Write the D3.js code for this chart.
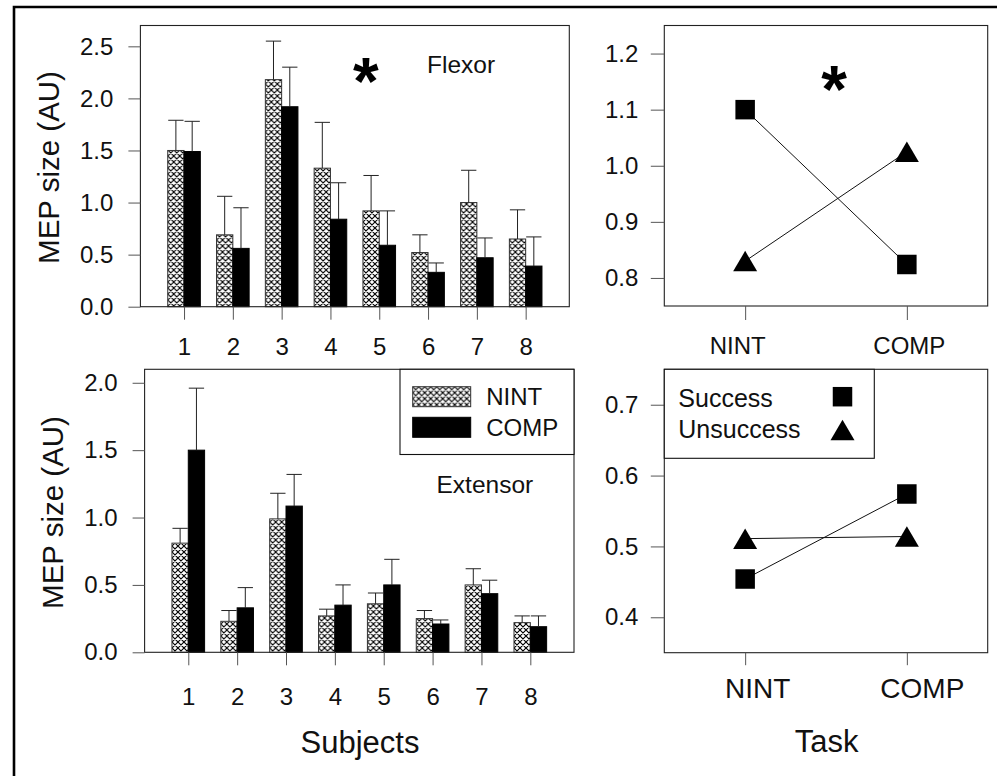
<!DOCTYPE html>
<html><head><meta charset="utf-8">
<script src="https://cdn.jsdelivr.net/npm/d3@7"></script>
<style>
html,body{margin:0;padding:0;background:#fff;overflow:hidden;}
svg{display:block;font-family:"Liberation Sans",Arial,sans-serif;}
</style></head><body>
<svg id="chart" width="997" height="776"></svg>
<script>
// ---------- DATA ----------
const subjects = ["1","2","3","4","5","6","7","8"];
const groups = ["NINT","COMP"];
const flexorNINT    = [1.50,0.69,2.18,1.33,0.92,0.52,1.00,0.65];
const flexorNINTSE  = [0.29,0.37,0.37,0.44,0.34,0.17,0.31,0.28];
const flexorCOMP    = [1.49,0.56,1.92,0.84,0.59,0.33,0.47,0.39];
const flexorCOMPSE  = [0.29,0.39,0.38,0.35,0.33,0.09,0.19,0.28];
const extensorNINT   = [0.81,0.23,0.99,0.27,0.36,0.25,0.50,0.22];
const extensorNINTSE = [0.11,0.08,0.19,0.05,0.08,0.06,0.12,0.05];
const extensorCOMP   = [1.50,0.33,1.085,0.35,0.50,0.21,0.435,0.19];
const extensorCOMPSE = [0.46,0.15,0.235,0.15,0.19,0.03,0.10,0.08];
const flexorTicks   = [0.0,0.5,1.0,1.5,2.0,2.5];
const extensorTicks = [0.0,0.5,1.0,1.5,2.0];

const tasks = ["NINT","COMP"];
const outcomes = ["Success","Unsuccess"];
const flexorSuccess     = [1.10, 0.824];
const flexorUnsuccess   = [0.830, 1.025];
const extensorSuccess   = [0.454, 0.574];
const extensorUnsuccess = [0.511, 0.514];
const flexorTaskTicks   = [0.8,0.9,1.0,1.1,1.2];
const extensorTaskTicks = [0.4,0.5,0.6,0.7];

// ---------- SETUP ----------
const svg = d3.select("#chart");
const FONT = '"Liberation Sans", Arial, sans-serif';
const frameColor = "#222", tickColor = "#555";

// outer border (extends beyond viewport on right/bottom)
svg.append("path").attr("d","M14,776 L14,7 L997,7")
  .attr("fill","none").attr("stroke","#000").attr("stroke-width",2.6);

const defs = svg.append("defs");
const PS = 6;
const pat = defs.append("pattern").attr("id","hatch").attr("patternUnits","userSpaceOnUse")
  .attr("width",PS).attr("height",PS);
pat.append("rect").attr("width",PS).attr("height",PS).attr("fill","#fff");
pat.append("path").attr("d",`M0,0L${PS},${PS}M${PS},0L0,${PS}M-1,${PS-1}L1,${PS+1}M${PS-1},-1L${PS+1},1M-1,1L1,-1M${PS-1},${PS+1}L${PS+1},${PS-1}`)
  .attr("stroke","#000").attr("stroke-width",1.15);

function fmt1(d){ return d3.format(".1f")(d); }

function styleAxis(g, fontSize){
  g.select(".domain").remove();
  g.selectAll(".tick line").attr("stroke",tickColor).attr("stroke-width",1);
  g.selectAll(".tick text").attr("fill","#111").attr("font-size",fontSize).attr("font-family",FONT);
}

function frame(p){
  svg.append("rect").attr("x",p.left).attr("y",p.top)
    .attr("width",p.right-p.left).attr("height",p.bottom-p.top)
    .attr("fill","none").attr("stroke",frameColor).attr("stroke-width",1.1);
}

// ---------- BAR PANELS ----------
function barPanel(p, nint, nintSE, comp, compSE, ticks){
  const x = d3.scaleBand().domain(subjects).range([p.left,p.right])
    .paddingInner(0.332).paddingOuter(0.56);
  const xs = d3.scaleBand().domain(groups).range([0,x.bandwidth()]);
  const y = d3.scaleLinear().domain(p.yDomain).range([p.bottom,p.top]);
  const rows = subjects.map((s,i)=>({s, vals:[
    {g:"NINT", v:nint[i], se:nintSE[i]},
    {g:"COMP", v:comp[i], se:compSE[i]}]}));
  const g = svg.append("g");
  const grp = g.selectAll("g.grp").data(rows).join("g")
    .attr("transform",d=>`translate(${x(d.s)},0)`);
  grp.selectAll("rect").data(d=>d.vals).join("rect")
    .attr("x",d=>xs(d.g)).attr("width",xs.bandwidth())
    .attr("y",d=>y(d.v)).attr("height",d=>y(0)-y(d.v))
    .attr("fill",d=>d.g==="NINT"?"url(#hatch)":"#000")
    .attr("stroke",d=>d.g==="NINT"?"#333":"#000").attr("stroke-width",1);
  grp.selectAll("line.err").data(d=>d.vals).join("line").attr("class","err")
    .attr("x1",d=>xs(d.g)+xs.bandwidth()/2).attr("x2",d=>xs(d.g)+xs.bandwidth()/2)
    .attr("y1",d=>y(d.v)).attr("y2",d=>y(d.v+d.se))
    .attr("stroke","#222").attr("stroke-width",1);
  grp.selectAll("line.cap").data(d=>d.vals).join("line").attr("class","cap")
    .attr("x1",d=>xs(d.g)+0.5).attr("x2",d=>xs(d.g)+xs.bandwidth()-0.5)
    .attr("y1",d=>y(d.v+d.se)).attr("y2",d=>y(d.v+d.se))
    .attr("stroke","#222").attr("stroke-width",1);
  frame(p);
  const ya = svg.append("g").attr("transform",`translate(${p.left},0)`)
    .call(d3.axisLeft(y).tickValues(ticks).tickFormat(fmt1).tickSize(12).tickPadding(15));
  styleAxis(ya, 24);
  const xa = svg.append("g").attr("transform",`translate(0,${p.bottom})`)
    .call(d3.axisBottom(d3.scalePoint().domain(subjects)
      .range([x(subjects[0])+x.bandwidth()/2, x(subjects[7])+x.bandwidth()/2]))
      .tickSize(13).tickPadding(p.xPad));
  styleAxis(xa, 24);
  return {x,y};
}

const TL = {left:140.4,right:569.3,top:25.5,bottom:306.7,yDomain:[0,2.7],xPad:18.6};
const BL = {left:144.6,right:574,top:369.3,bottom:652.3,yDomain:[0,2.1],xPad:23};
barPanel(TL, flexorNINT, flexorNINTSE, flexorCOMP, flexorCOMPSE, flexorTicks);
barPanel(BL, extensorNINT, extensorNINTSE, extensorCOMP, extensorCOMPSE, extensorTicks);

// titles / annotations left
svg.append("text").attr("transform","translate(59,167.5) rotate(-90)")
  .attr("text-anchor","middle").attr("font-size",29.5).attr("fill","#111").text("MEP size (AU)");
svg.append("text").attr("transform","translate(62.5,512.5) rotate(-90)")
  .attr("text-anchor","middle").attr("font-size",29.5).attr("fill","#111").text("MEP size (AU)");
svg.append("text").attr("x",427).attr("y",73).attr("font-size",24.5).attr("fill","#111").text("Flexor");
svg.append("text").attr("x",436.5).attr("y",492.5).attr("font-size",24.5).attr("fill","#111").text("Extensor");
svg.append("text").attr("x",365.8).attr("y",104).attr("text-anchor","middle")
  .attr("font-size",66).attr("font-weight","bold").attr("fill","#000").text("*");
svg.append("text").attr("x",360).attr("y",753).attr("text-anchor","middle")
  .attr("font-size",31).attr("fill","#111").text("Subjects");

// legend bottom-left
{
  const lg = svg.append("g");
  lg.append("rect").attr("x",400).attr("y",369.3).attr("width",174).attr("height",85.2)
    .attr("fill","#fff").attr("stroke","#111").attr("stroke-width",1.1);
  const items = lg.selectAll("g.it").data(groups).join("g")
    .attr("transform",(d,i)=>`translate(412.7,${386.7+i*30.6})`);
  items.append("rect").attr("width",58).attr("height",20)
    .attr("fill",d=>d==="NINT"?"url(#hatch)":"#000").attr("stroke",d=>d==="NINT"?"#333":"#000");
  items.append("text").attr("x",73.5).attr("y",18.5).attr("font-size",24).attr("fill","#111").text(d=>d);
}

// ---------- LINE PANELS ----------
function trianglePath(cx, cy){
  const w = 24, h = 20.5;
  return `M${cx},${cy-h/2}L${cx+w/2},${cy+h/2}L${cx-w/2},${cy+h/2}Z`;
}
function squarePath(cx, cy){
  const s = 19.5;
  return `M${cx-s/2},${cy-s/2}h${s}v${s}h${-s}Z`;
}
function linePanel(p, succ, unsucc, ticks){
  const x = d3.scalePoint().domain(tasks).range([p.left,p.right]).padding(0.5);
  const y = d3.scaleLinear().domain(p.yDomain).range([p.bottom,p.top]);
  frame(p);
  const ya = svg.append("g").attr("transform",`translate(${p.left},0)`)
    .call(d3.axisLeft(y).tickValues(ticks).tickFormat(fmt1).tickSize(13.5).tickPadding(12.5));
  styleAxis(ya, 24);
  const xa = svg.append("g").attr("transform",`translate(0,${p.bottom})`)
    .call(d3.axisBottom(x).tickSize(p.xTick).tickPadding(p.xPad));
  styleAxis(xa, p.xFont);
  xa.selectAll(".tick text").attr("dx",(d,i)=>p.xDx[i]);
  const series = [
    {name:"Success", vals:succ, shape:squarePath},
    {name:"Unsuccess", vals:unsucc, shape:trianglePath}];
  const line = d3.line().x((d,i)=>x(tasks[i])).y(d=>y(d));
  const g = svg.append("g");
  g.selectAll("path.ln").data(series).join("path").attr("class","ln")
    .attr("d",d=>line(d.vals)).attr("fill","none").attr("stroke","#111").attr("stroke-width",1);
  series.forEach(s=>{
    g.selectAll(null).data(s.vals).join("path")
      .attr("d",(d,i)=>s.shape(x(tasks[i]),y(d))).attr("fill","#000");
  });
}
const TR = {left:664.3,right:987.7,top:25.5,bottom:306,yDomain:[0.75,1.25],
  xTick:14,xPad:16.7,xFont:24,xDx:[-8,2]};
const BR = {left:664.3,right:987.7,top:369.3,bottom:652.7,yDomain:[0.35,0.75],
  xTick:12.5,xPad:13,xFont:28,xDx:[12,15]};
linePanel(TR, flexorSuccess, flexorUnsuccess, flexorTaskTicks);
linePanel(BR, extensorSuccess, extensorUnsuccess, extensorTaskTicks);

svg.append("text").attr("x",834).attr("y",111.5).attr("text-anchor","middle")
  .attr("font-size",66).attr("font-weight","bold").attr("fill","#000").text("*");
svg.append("text").attr("x",826.7).attr("y",752).attr("text-anchor","middle")
  .attr("font-size",31).attr("fill","#111").text("Task");

// legend bottom-right
{
  const lg = svg.append("g");
  lg.append("rect").attr("x",664.3).attr("y",369.3).attr("width",210).attr("height",89)
    .attr("fill","#fff").attr("stroke","#111").attr("stroke-width",1.1);
  const shapes = [squarePath, trianglePath];
  const it = lg.selectAll("g.it").data(outcomes).join("g")
    .attr("transform",(d,i)=>`translate(0,${396.7+i*31.6})`);
  it.append("text").attr("x",678.3).attr("y",10).attr("font-size",25).attr("fill","#111").text(d=>d);
  it.append("path").attr("d",(d,i)=>shapes[i](842.5,(i===0?0:1.6))).attr("fill","#000");
}
</script>
</body></html>
